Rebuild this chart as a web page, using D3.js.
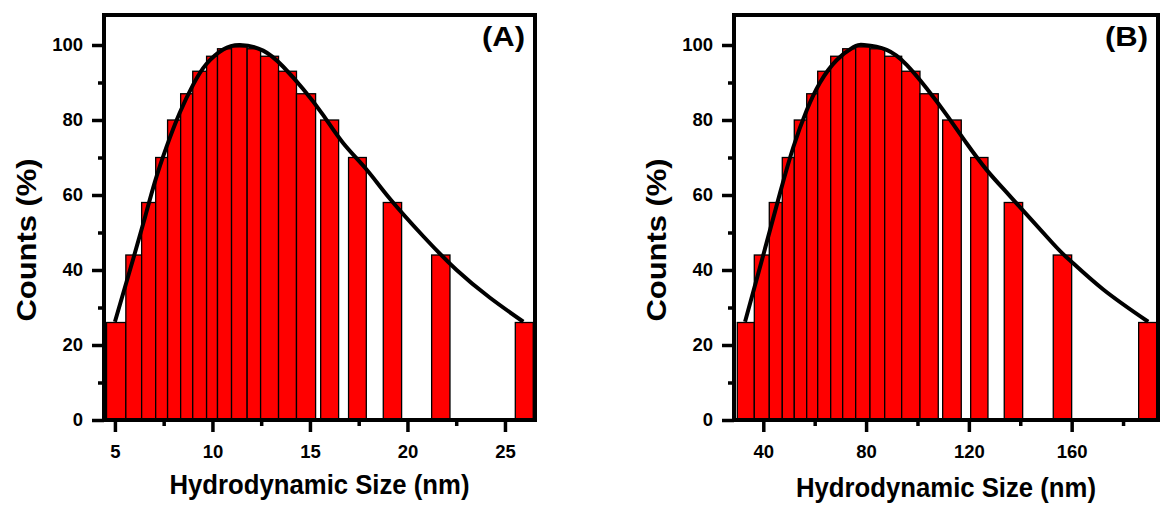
<!DOCTYPE html>
<meta charset="utf-8">
<html>
<head>
<style>
  body { margin: 0; background: #fff; }
  svg text { font-family: "Liberation Sans", Arial, sans-serif; font-weight: bold; fill: #000; }
</style>
</head>
<body>
<div id="chart"></div>
<script src="https://cdn.jsdelivr.net/npm/d3@7"></script>
<script>
// ---- data ----
// panel A : hydrodynamic size (nm), bins given as left / right edge
var binLoA = [4.57, 5.56, 6.37, 7.09, 7.70, 8.37, 8.99, 9.70, 10.26, 10.98, 11.78, 12.47, 13.39, 14.31, 15.55, 16.98, 18.76, 21.24, 25.53];
var binHiA = [5.56, 6.37, 7.09, 7.70, 8.37, 8.99, 9.70, 10.26, 10.98, 11.78, 12.47, 13.39, 14.31, 15.29, 16.47, 17.89, 19.70, 22.18, 26.45];
var countsA = [26, 44, 58, 70, 80, 87, 93, 97, 99, 99.5, 99, 97, 93, 87, 80, 70, 58, 44, 26];
// fitted curve, points
var fitXA = [5.0, 5.94, 6.54, 7.05, 7.65, 8.33, 9.02, 9.70, 10.55, 11.41, 12.6, 13.63, 14.66, 15.68, 16.71, 17.9, 19.1, 20.81, 22.52, 24.23, 25.94];
var fitYA = [26.2, 43, 54, 63.5, 72.9, 82, 89.5, 95, 98.8, 100, 98.5, 94.2, 88.2, 81.3, 73.8, 66.8, 59, 49, 40, 32.6, 26.2];
var xTicksA = [5, 10, 15, 20, 25];
var xMinorA = [7.5, 12.5, 17.5, 22.5];

// panel B
var binLoB = [29.88, 36.5, 42.33, 47.39, 52.06, 56.89, 61.17, 66.23, 70.89, 75.95, 81.52, 87.24, 93.85, 100.97, 109.8, 120.7, 133.77, 152.84, 186.07];
var binHiB = [36.5, 42.33, 47.39, 52.06, 56.89, 61.17, 66.23, 70.89, 75.95, 81.52, 87.24, 93.85, 100.97, 108.09, 117.04, 127.43, 140.93, 160.0, 193.07];
var countsB = [26, 44, 58, 70, 80, 87, 93, 97, 99, 99.5, 99, 97, 93, 87, 80, 70, 58, 44, 26];
var fitXB = [32.9, 40, 46.5, 51.7, 56.9, 62.1, 68.6, 75.0, 79.2, 88.0, 95.8, 103.6, 111.4, 119.1, 126.9, 136.0, 152.8, 159.3, 172.3, 189.8];
var fitYB = [26.2, 44, 60.5, 72.8, 82.6, 90, 96, 99.4, 100, 98.7, 94.7, 88.4, 81.3, 73.8, 66.7, 59.7, 47, 42.6, 34.8, 26.2];
var xTicksB = [40, 80, 120, 160];
var xMinorB = [60, 100, 140, 180];

var yTicks = [0, 20, 40, 60, 80, 100];
var yMinor = [10, 30, 50, 70, 90];

var panels = [
  {lo: binLoA, hi: binHiA, counts: countsA, fx: fitXA, fy: fitYA, ticks: xTicksA, minor: xMinorA,
   domain: [4.44, 26.54], left: 104, right: 535, label: "(A)", ylabX: 36, titleY: 494},
  {lo: binLoB, hi: binHiB, counts: countsB, fx: fitXB, fy: fitYB, ticks: xTicksB, minor: xMinorB,
   domain: [28.6, 193.6], left: 734, right: 1158, label: "(B)", ylabX: 666, titleY: 497}
];

var W = 1160, H = 508, plotTop = 15, plotBottom = 420;

var svg = d3.select("#chart").append("svg")
  .attr("width", W).attr("height", H)
  .attr("viewBox", "0 0 " + W + " " + H);

panels.forEach(function(p) {
  var x = d3.scaleLinear().domain(p.domain).range([p.left, p.right]);
  var y = d3.scaleLinear().domain([0, 108]).range([plotBottom, plotTop]);
  var g = svg.append("g");

  // bars
  g.selectAll("rect.bar")
    .data(p.counts)
    .enter()
    .append("rect")
    .attr("class", "bar")
    .attr("x", function(d, i) { return x(p.lo[i]); })
    .attr("y", function(d) { return y(d); })
    .attr("width", function(d, i) { return x(p.hi[i]) - x(p.lo[i]); })
    .attr("height", function(d) { return y(0) - y(d); })
    .attr("fill", "#ff0000")
    .attr("stroke", "#000")
    .attr("stroke-width", 1.3);

  // fit curve
  var line = d3.line()
    .x(function(d) { return x(d[0]); })
    .y(function(d) { return y(d[1]); })
    .curve(d3.curveNatural);
  g.append("path")
    .datum(d3.zip(p.fx, p.fy))
    .attr("d", line)
    .attr("fill", "none")
    .attr("stroke", "#000")
    .attr("stroke-width", 4);

  // frame
  g.append("rect")
    .attr("x", p.left).attr("y", plotTop)
    .attr("width", p.right - p.left).attr("height", plotBottom - plotTop)
    .attr("fill", "none")
    .attr("stroke", "#000")
    .attr("stroke-width", 4);

  // y axis
  g.append("g").attr("transform", "translate(" + p.left + ",0)")
    .call(d3.axisLeft(y).tickValues(yTicks).tickSize(12).tickPadding(9));
  g.append("g").attr("transform", "translate(" + p.left + ",0)")
    .call(d3.axisLeft(y).tickValues(yMinor).tickSize(6).tickFormat(""));

  // x axis
  g.append("g").attr("transform", "translate(0," + plotBottom + ")")
    .call(d3.axisBottom(x).tickValues(p.ticks).tickSize(12).tickPadding(13));
  g.append("g").attr("transform", "translate(0," + plotBottom + ")")
    .call(d3.axisBottom(x).tickValues(p.minor).tickSize(6).tickFormat(""));

  g.selectAll(".domain").remove();
  g.selectAll(".tick line").attr("stroke", "#000").attr("stroke-width", 3.5);
  g.selectAll(".tick text")
    .style("font-family", "'Liberation Sans', Arial, sans-serif")
    .style("font-weight", "bold")
    .style("font-size", "18.5px");

  // titles
  g.append("text")
    .attr("x", (p.left + p.right) / 2)
    .attr("y", p.titleY)
    .attr("text-anchor", "middle")
    .style("font-size", "28px")
    .attr("textLength", 300)
    .attr("lengthAdjust", "spacingAndGlyphs")
    .text("Hydrodynamic Size (nm)");

  g.append("text")
    .attr("transform", "translate(" + p.ylabX + "," + 240 + ") rotate(-90)")
    .attr("text-anchor", "middle")
    .style("font-size", "28px")
    .attr("textLength", 163)
    .attr("lengthAdjust", "spacingAndGlyphs")
    .text("Counts (%)");

  g.append("text")
    .attr("x", p.right - 10)
    .attr("y", 46)
    .attr("text-anchor", "end")
    .style("font-size", "27px")
    .attr("textLength", 43)
    .attr("lengthAdjust", "spacingAndGlyphs")
    .text(p.label);
});
</script>
</body>
</html>
